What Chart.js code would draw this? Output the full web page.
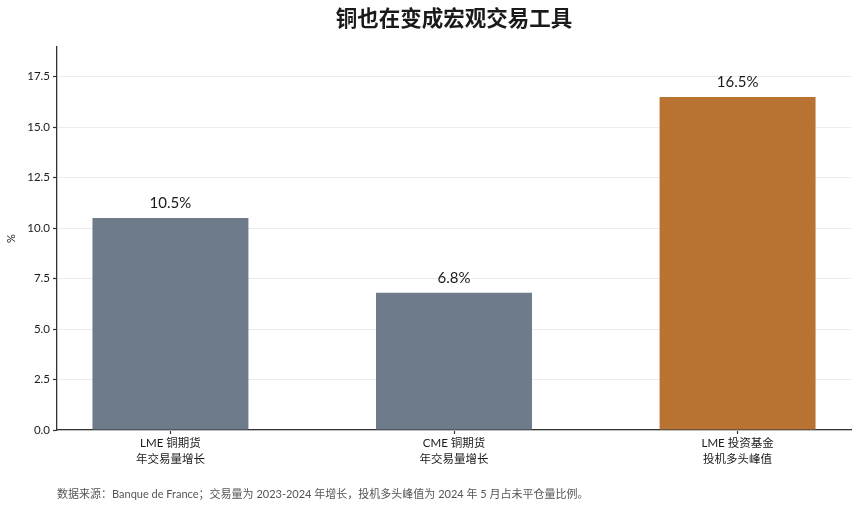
<!DOCTYPE html>
<html><head><meta charset="utf-8">
<script src="https://cdn.jsdelivr.net/npm/chart.js@4"></script>
<style>html,body{margin:0;padding:0;background:#fff;}#wrap{width:860px;height:509px;}</style>
</head><body><div id="wrap"><canvas id="c" width="860" height="509"></canvas></div>
<script>
const categories = [['LME 铜期货','年交易量增长'],['CME 铜期货','年交易量增长'],['LME 投资基金','投机多头峰值']];
const values = [10.5, 6.8, 16.5];
const barColors = ['#6e7b8b','#6e7b8b','#b87333'];
const yTicks = [0, 2.5, 5, 7.5, 10, 12.5, 15, 17.5];
const titleText = '铜也在变成宏观交易工具';
const sourceText = '数据来源：Banque de France；交易量为 2023-2024 年增长，投机多头峰值为 2024 年 5 月占未平仓量比例。';
const FONT = "Lato, 'Noto Sans CJK SC', sans-serif";

const extras = {
  id: 'extras',
  afterDatasetsDraw(chart) {
    const ctx = chart.ctx;
    const meta = chart.getDatasetMeta(0);
    ctx.save();
    ctx.fillStyle = '#1a1a1a';
    ctx.font = "15px " + FONT;
    ctx.textAlign = 'center';
    ctx.textBaseline = 'bottom';
    meta.data.forEach((bar, i) => {
      ctx.fillText(values[i].toFixed(1) + '%', bar.x, bar.y - 7);
    });
    ctx.restore();
  },
  afterDraw(chart) {
    const ctx = chart.ctx, a = chart.chartArea;
    ctx.save();
    ctx.fillStyle = '#1a1a1a';
    ctx.font = "bold 21.5px 'Noto Sans CJK SC', sans-serif";
    ctx.textAlign = 'center';
    ctx.textBaseline = 'middle';
    ctx.fillText(titleText, (a.left + a.right) / 2, 18);
    ctx.fillStyle = '#555';
    ctx.font = "11px " + FONT;
    ctx.textAlign = 'left';
    ctx.fillText(sourceText, a.left, 494);
    ctx.restore();
  }
};

new Chart(document.getElementById('c'), {
  type: 'bar',
  data: {
    datasets: [{
      data: values.map((v, i) => ({x: i, y: v})),
      backgroundColor: barColors,
      borderWidth: 0,
      barPercentage: 0.55,
      categoryPercentage: 1.0
    }]
  },
  options: {
    responsive: false,
    animation: false,
    devicePixelRatio: 1,
    layout: {padding: {top: 47, right: 9, left: 0, bottom: 0}},
    plugins: {legend: {display: false}, tooltip: {enabled: false}, title: {display: false}},
    scales: {
      x: {
        type: 'linear',
        offset: false,
        min: -0.4, max: 2.4,
        afterBuildTicks: s => { s.ticks = categories.map((c, i) => ({value: i})); },
        afterFit: s => { s.height = 79; },
        grid: {offset: false, drawOnChartArea: false, drawTicks: true, tickLength: 4, tickColor: '#333', tickWidth: 1.2},
        border: {color: '#333', width: 1.3},
        ticks: {
          color: '#1a1a1a', padding: 2,
          font: {size: 11.5, family: FONT, lineHeight: 1.35},
          maxRotation: 0, autoSkip: false,
          callback: v => categories[v] || ''
        }
      },
      y: {
        min: 0, max: 18.975,
        afterBuildTicks: s => { s.ticks = yTicks.map(v => ({value: v})); },
        afterFit: s => { s.width = 57; },
        grid: {color: '#ececec', lineWidth: 1, tickColor: '#333', tickLength: 4, tickWidth: 1.2},
        border: {color: '#333', width: 1.3},
        title: {display: true, text: '%', color: '#1a1a1a', font: {size: 11, family: FONT}, padding: {top: 5, bottom: 0}},
        ticks: {
          color: '#1a1a1a', padding: 3,
          font: {size: 11.5, family: FONT},
          callback: v => Number(v).toFixed(1)
        }
      }
    }
  },
  plugins: [extras]
});
</script></body></html>
